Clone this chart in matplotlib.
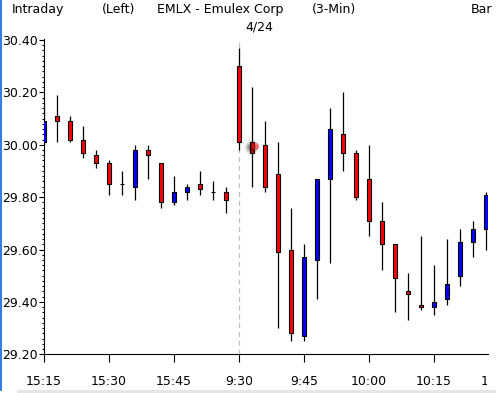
import matplotlib
matplotlib.use("Agg")
import matplotlib.pyplot as plt
import numpy as np
from matplotlib.ticker import MultipleLocator, FormatStrFormatter, FixedLocator, FixedFormatter
from matplotlib.lines import Line2D
from matplotlib.patches import Rectangle
from matplotlib.transforms import Bbox, blended_transform_factory, offset_copy

# ---- data (3-minute bars, EMLX) ----
times = ["15:15", "15:18", "15:21", "15:24", "15:27", "15:30", "15:33", "15:36", "15:39", "15:42",
         "15:45", "15:48", "15:51", "15:54", "15:57",
         "9:30", "9:33", "9:36", "9:39", "9:42", "9:45", "9:48", "9:51", "9:54", "9:57",
         "10:00", "10:03", "10:06", "10:09", "10:12", "10:15", "10:18", "10:21", "10:24", "10:27"]
opens = [30.01, 30.11, 30.09, 30.02, 29.96, 29.93, 29.85, 29.84, 29.98, 29.93,
         29.78, 29.82, 29.85, 29.82, 29.82,
         30.30, 30.01, 30.00, 29.89, 29.60, 29.27, 29.56, 29.87, 30.04, 29.97,
         29.87, 29.71, 29.62, 29.44, 29.39, 29.38, 29.41, 29.50, 29.63, 29.68]
highs = [30.16, 30.19, 30.11, 30.07, 29.98, 29.94, 29.90, 30.00, 30.00, 29.93,
         29.88, 29.85, 29.90, 29.86, 29.84,
         30.37, 30.22, 30.09, 30.01, 29.76, 29.62, 29.87, 30.14, 30.20, 29.98,
         30.00, 29.78, 29.62, 29.51, 29.65, 29.54, 29.64, 29.68, 29.71, 29.82]
lows = [30.00, 30.01, 30.01, 29.95, 29.91, 29.81, 29.81, 29.79, 29.87, 29.76,
        29.77, 29.79, 29.81, 29.79, 29.74,
        29.98, 29.84, 29.82, 29.30, 29.25, 29.25, 29.41, 29.55, 29.90, 29.79,
        29.65, 29.52, 29.36, 29.33, 29.37, 29.35, 29.39, 29.46, 29.57, 29.60]
closes = [30.09, 30.09, 30.02, 29.97, 29.93, 29.85, 29.85, 29.98, 29.96, 29.78,
          29.82, 29.84, 29.83, 29.82, 29.79,
          30.01, 29.97, 29.84, 29.59, 29.28, 29.57, 29.87, 30.06, 29.97, 29.80,
          29.71, 29.62, 29.49, 29.43, 29.38, 29.40, 29.47, 29.63, 29.68, 29.81]

xtick_pos = [0, 5, 10, 15, 20, 25, 30]
xtick_labels = ["15:15", "15:30", "15:45", "9:30", "9:45", "10:00", "10:15"]
extra_label = "10:30"
session_break = 15
cursor_bar = 16

W, H = 496, 393
fig = plt.figure(figsize=(W / 100, H / 100), dpi=100)
plt.rcParams['font.family'] = ['DejaVu Sans']

ax_left, ax_right, ax_top, ax_bottom = 43.5, 488.0, 38.5, 354.3
ax = fig.add_axes([ax_left / W, (H - ax_bottom) / H, (ax_right - ax_left) / W, (ax_bottom - ax_top) / H])

x = np.arange(len(times))
o = np.array(opens); h = np.array(highs); l = np.array(lows); c = np.array(closes)

ax.vlines(x, l, h, color='black', lw=0.9, zorder=2)
colors = np.where(c > o, '#0000ff', np.where(c < o, '#ff0000', 'black'))
bottom = np.minimum(o, c)
height = np.abs(c - o)
ax.bar(x, height, width=0.32, bottom=bottom, color=colors, edgecolor='black', linewidth=0.8, zorder=3)

# session break dashed line
ax.axvline(session_break, color='#c0c0c0', lw=0.9, ls=(0, (4, 3)), zorder=1)

# cursor blur artifact at bar 16
cy = (opens[cursor_bar] + closes[cursor_bar]) / 2
for s, a in [(110, 0.08), (70, 0.12), (40, 0.18), (18, 0.25)]:
    ax.scatter([cursor_bar - 0.08], [cy], s=s, color='black', alpha=a, lw=0, zorder=4)
ax.scatter([cursor_bar + 0.22], [cy + 0.005], s=28, color='#ff2020', alpha=0.55, lw=0, zorder=4)

ax.set_xlim((ax_left - 44) / 13, (ax_right - 44) / 13)
ppu = (354.3 - 40) / 1.2
ax.set_ylim(29.20, 30.40 + (40 - ax_top) / ppu)

ax.spines['top'].set_visible(False)
ax.spines['right'].set_visible(False)
ax.spines['left'].set_linewidth(0.8)
ax.spines['bottom'].set_linewidth(0.8)

ax.xaxis.set_major_locator(FixedLocator(xtick_pos))
ax.xaxis.set_major_formatter(FixedFormatter(xtick_labels))
ax.yaxis.set_major_locator(MultipleLocator(0.2))
ax.yaxis.set_minor_locator(MultipleLocator(0.02))
ax.yaxis.set_major_formatter(FormatStrFormatter('%.2f'))

xpad = 9
ax.tick_params(axis='x', which='major', length=6, width=0.8, pad=xpad, labelsize=9, colors='black')
ax.tick_params(axis='y', which='major', length=3.6, width=0.8, pad=0.6, labelsize=9)
ax.tick_params(axis='y', which='minor', length=1.8, width=0.8)

# partially visible next time label (clipped at the chart edge as in the reference)
trans = blended_transform_factory(ax.transData, ax.transAxes)
lab = ax.text(35, 0, extra_label, ha='center', va='top', fontsize=9,
              transform=offset_copy(trans, fig=fig, y=-(6 + xpad), units='points'))
lab.set_clip_on(True)
lab.set_clip_box(Bbox.from_extents(0, 0, 487, H))

# header texts
def ftxt(px, py, s, ha='left'):
    fig.text(px / W, 1 - py / H, s, ha=ha, va='center', fontsize=9)

ftxt(12, 9.5, "Intraday")
ftxt(102, 9.5, "(Left)")
ftxt(157, 9.5, "EMLX - Emulex Corp")
ftxt(312, 9.5, "(3-Min)")
ftxt(471, 9.5, "Bar")
ftxt(259.5, 26.5, "4/24", ha='center')

# window-edge artifacts
fig.add_artist(Line2D([0.6 / W, 0.6 / W], [1, 1 - 390 / H], transform=fig.transFigure, color='#0a64e6', lw=1.2))
fig.add_artist(Rectangle((17 / W, 0), 1 - 17 / W, 3 / H, transform=fig.transFigure, color='#e6e6e6', lw=0))

fig.savefig("out.png", dpi=100)
